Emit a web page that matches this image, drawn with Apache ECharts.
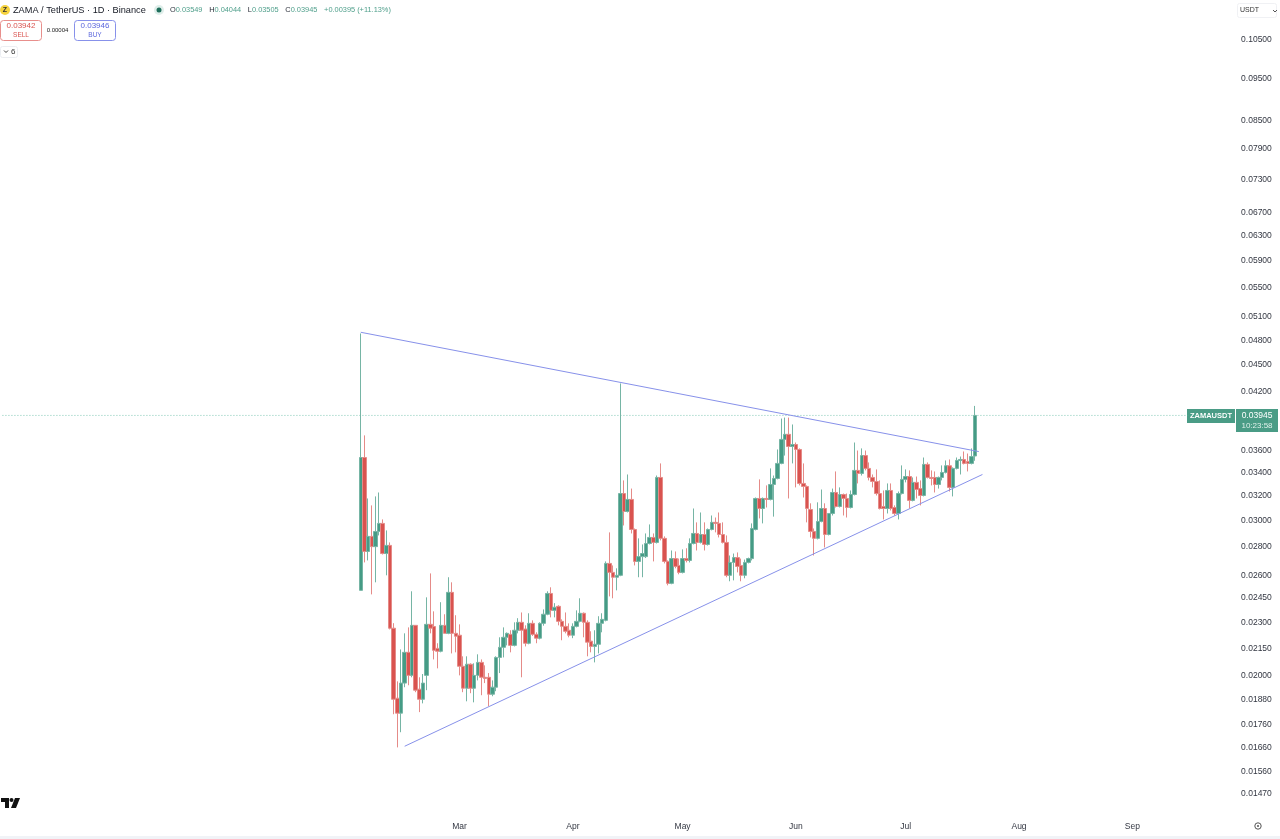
<!DOCTYPE html>
<html><head><meta charset="utf-8">
<style>html,body{margin:0;padding:0;background:#fff}#c{width:1280px;height:839px}</style>
<script src="https://cdn.jsdelivr.net/npm/echarts@6/dist/echarts.min.js"></script>
</head><body><div id="c"></div>
<script>
const firstDay = '2026-02-02';
const opens = [
.02500,.03535,.02767,.02878,.02802,.02915,.02977,.02752,.02811,.02265,
.01887,.01815,.01963,.02127,.02003,.02282,.01932,.01882,.02003,.02288,
.02275,.02149,.02133,.02282,.02235,.02487,.02235,.02224,.02051,.01937,
.02062,.01937,.02003,.02072,.01993,.01993,.01907,.01942,.02099,.02155,
.02212,.02229,.02166,.02253,.02300,.02260,.02178,.02294,.02229,.02207,
.02294,.02349,.02480,.02373,.02398,.02306,.02276,.02253,.02224,.02276,
.02306,.02355,.02300,.02190,.02160,.02172,.02294,.02312,.02682,.02620,
.02587,.02600,.03218,.03071,.03169,.02930,.02696,.02730,.02730,.02825,
.02870,.02833,.03356,.02863,.02696,.02546,.02716,.02668,.02620,.02716,
.02703,.02825,.02900,.02833,.02892,.02818,.02930,.02985,.02977,.02892,
.02833,.02600,.02689,.02723,.02668,.02600,.02689,.02716,.02930,.03177,
.03095,.03177,.03169,.03295,.03347,.03481,.03706,.03755,.03638,.03657,
.03610,.03304,.03278,.03087,.02915,.02863,.02992,.03095,.02892,.03055,
.03227,.03111,.03210,.03177,.03103,.03210,.03418,.03391,.03553,.03436,
.03356,.03321,.03218,.03111,.03095,.03244,.03103,.03055,.03218,.03339,
.03364,.03161,.03313,.03260,.03202,.03472,.03356,.03356,.03295,.03356,
.03400,.03460,.03270,.03436,.03508,.03517,.03499,.03481,.03549];
const closes = [
.03535,.02767,.02878,.02802,.02915,.02977,.02752,.02811,.02265,.01882,
.01815,.01963,.02127,.02003,.02282,.01927,.01882,.01963,.02288,.02265,
.02138,.02133,.02282,.02235,.02487,.02235,.02218,.02051,.01937,.02062,
.01937,.02003,.02072,.01993,.01987,.01907,.01942,.02099,.02155,.02212,
.02235,.02166,.02253,.02300,.02253,.02178,.02294,.02229,.02207,.02294,
.02349,.02480,.02373,.02392,.02306,.02276,.02247,.02224,.02276,.02306,
.02355,.02300,.02184,.02160,.02172,.02294,.02318,.02682,.02620,.02587,
.02600,.03218,.03071,.03169,.02930,.02696,.02730,.02752,.02825,.02870,
.02833,.03356,.02863,.02696,.02546,.02716,.02661,.02620,.02716,.02703,
.02825,.02900,.02833,.02892,.02818,.02930,.02985,.02977,.02892,.02833,
.02600,.02689,.02723,.02661,.02600,.02689,.02716,.02938,.03177,.03095,
.03177,.03169,.03295,.03347,.03481,.03706,.03755,.03638,.03657,.03610,
.03304,.03278,.03095,.02915,.02863,.02992,.03095,.02892,.03055,.03227,
.03111,.03210,.03177,.03103,.03210,.03418,.03391,.03553,.03436,.03356,
.03321,.03218,.03095,.03095,.03244,.03095,.03055,.03218,.03339,.03364,
.03161,.03313,.03252,.03202,.03472,.03356,.03347,.03295,.03356,.03400,
.03460,.03270,.03436,.03508,.03517,.03481,.03481,.03544,.03945];
const highs = [
.04885,.03745,.03177,.03120,.03194,.03227,.03008,.02923,.02833,.02295,
.01972,.02143,.02235,.02270,.02494,.02282,.01993,.02010,.02455,.02613,
.02367,.02178,.02424,.02349,.02587,.02553,.02343,.02288,.02105,.02105,
.02067,.02067,.02116,.02088,.02056,.02015,.01977,.02105,.02212,.02270,
.02240,.02253,.02300,.02325,.02360,.02282,.02355,.02312,.02241,.02300,
.02379,.02494,.02520,.02418,.02405,.02318,.02360,.02294,.02294,.02373,
.02449,.02360,.02312,.02247,.02253,.02337,.02355,.02696,.02908,.02668,
.02648,.04288,.03330,.03382,.03260,.02938,.02863,.02818,.02900,.02969,
.02900,.03373,.03481,.02878,.02703,.02774,.02767,.02716,.02782,.02790,
.02863,.03095,.02985,.03063,.02985,.02938,.03039,.03023,.03063,.02985,
.02885,.02738,.02752,.02760,.02716,.02709,.02723,.02977,.03185,.03339,
.03185,.03287,.03436,.03373,.03610,.03913,.03923,.03923,.03853,.03676,
.03620,.03481,.03287,.03137,.02938,.03145,.03252,.03137,.03055,.03260,
.03409,.03270,.03218,.03218,.03244,.03676,.03600,.03620,.03600,.03490,
.03382,.03427,.03330,.03244,.03304,.03304,.03120,.03235,.03463,.03427,
.03418,.03356,.03364,.03330,.03535,.03490,.03418,.03409,.03364,.03463,
.03508,.03517,.03445,.03535,.03544,.03591,.03572,.03620,.04044];
const lows = [
.02500,.02689,.02703,.02474,.02553,.02885,.02745,.02600,.02258,.01810,
.01660,.01727,.01942,.01952,.01993,.01917,.01820,.01862,.01927,.02235,
.02088,.02040,.02127,.02235,.02230,.02121,.02127,.02003,.01917,.01872,
.01912,.01867,.01977,.01902,.01963,.01848,.01897,.01922,.02015,.02099,
.02166,.02127,.02160,.02235,.01993,.02160,.02172,.02220,.02178,.02200,
.02280,.02343,.02330,.02330,.02282,.02195,.02235,.02212,.02207,.02270,
.02300,.02212,.02105,.02127,.02072,.02121,.02241,.02306,.02461,.02449,
.02500,.02594,.02961,.03063,.02900,.02668,.02587,.02587,.02720,.02818,
.02696,.02825,.02848,.02682,.02533,.02540,.02648,.02607,.02613,.02689,
.02689,.02818,.02774,.02825,.02774,.02810,.02923,.02908,.02870,.02825,
.02587,.02560,.02566,.02620,.02560,.02580,.02682,.02703,.02923,.03016,
.02977,.03103,.03161,.03030,.03339,.03473,.03553,.03177,.03481,.03270,
.03287,.03185,.02985,.02870,.02738,.02855,.02985,.02796,.02885,.03039,
.03103,.03103,.03039,.03023,.03095,.03202,.03304,.03373,.03418,.03330,
.03270,.03202,.03087,.03008,.03055,.03079,.03039,.03008,.03210,.03313,
.03095,.03153,.03177,.03120,.03194,.03347,.03287,.03227,.03260,.03330,
.03391,.03235,.03194,.03427,.03382,.03472,.03409,.03472,.03505];
const priceTicks = [0.105,0.095,0.085,0.079,0.073,0.067,0.063,0.059,0.055,0.051,0.048,0.045,0.042,0.036,0.034,0.032,0.03,0.028,0.026,0.0245,0.023,0.0215,0.02,0.0188,0.0176,0.0166,0.0156,0.0147];
const monthTicks = ['2026-03-01','2026-04-01','2026-05-01','2026-06-01','2026-07-01','2026-08-01','2026-09-01'];
const monthNames = ['Mar','Apr','May','Jun','Jul','Aug','Sep'];
const upperLine = [['2026-02-02',0.0490],['2026-07-21',0.0359]];
const lowerLine = [['2026-02-14',0.01665],['2026-07-22',0.03382]];
const lastPrice = 0.03945;

const DAY = 86400000, t0 = Date.parse(firstDay);
const DAYS_BEFORE = 98, DAYS_TOTAL = 338;
const GREEN = '#459b85', RED = '#d9534f', FONT = '"Liberation Sans", Arial, sans-serif';
const categories = [];
for (let k=0;k<DAYS_TOTAL;k++) categories.push(new Date(t0+(k-DAYS_BEFORE)*DAY).toISOString().slice(0,10));
const candles = categories.map((d,k)=>{const i=k-DAYS_BEFORE; return i>=0&&i<opens.length ? [opens[i],closes[i],lows[i],highs[i]] : '-';});
const priceLine = [[categories[0],lastPrice],[categories[DAYS_TOTAL-1],lastPrice]];
const labelOf = {}; monthTicks.forEach((d,i)=>labelOf[d] = monthNames[i]);
const txt = (x,y,text,fontSize,fill,extra) => ({type:'text',x,y,silent:true,style:Object.assign({text,fontSize,fill,fontFamily:FONT,verticalAlign:'middle'},extra||{})});
const box = (x,y,w,h,stroke,fill,r) => ({type:'rect',silent:true,shape:{x,y,width:w,height:h,r:r||0},style:{stroke:stroke,fill:fill,lineWidth:1}});

const chart = echarts.init(document.getElementById('c'),null,{renderer:'canvas'});
chart.setOption({
  animation:false, backgroundColor:'#fff',
  grid:{left:0.6,right:43.4,top:1,bottom:22,containLabel:false},
  xAxis:{type:'category',data:categories,boundaryGap:true,
    axisLine:{show:false},axisTick:{show:false},splitLine:{show:false},
    axisLabel:{interval:(i,v)=>labelOf[v]!==undefined,formatter:v=>labelOf[v]||'',color:'#333742',fontSize:8.5,fontFamily:FONT,margin:5,hideOverlap:false}},
  yAxis:{type:'log',position:'right',min:0.013845,max:0.11624,
    axisLine:{show:false},axisTick:{show:false},splitLine:{show:false},minorTick:{show:false},minorSplitLine:{show:false},
    axisLabel:{customValues:priceTicks,formatter:v=>(+v).toFixed(5),color:'#333742',fontSize:8.5,fontFamily:FONT,margin:4.5}},
  series:[
   {type:'line',name:'last',data:priceLine,showSymbol:false,symbol:'none',silent:true,lineStyle:{type:[1,2],color:'#4fb096',width:1,opacity:0.7},z:1},
   {type:'candlestick',name:'ZAMAUSDT',data:candles,barWidth:4,z:2,
    itemStyle:{color:GREEN,color0:RED,borderColor:'#76b5a5',borderColor0:'#e58b88',borderWidth:1}},
   {type:'line',name:'upper',data:upperLine,showSymbol:false,symbol:'none',silent:true,lineStyle:{color:'#8791ea',width:1},z:5},
   {type:'line',name:'lower',data:lowerLine,showSymbol:false,symbol:'none',silent:true,lineStyle:{color:'#8791ea',width:1},z:5}
  ],
  graphic:{elements:[
    {type:'circle',silent:true,shape:{cx:5,cy:10,r:5},style:{fill:'#f5d33f'}},
    txt(5,10,'Z',7,'#333',{align:'center',fontWeight:'bold'}),
    txt(13,10,'ZAMA / TetherUS · 1D · Binance',9.2,'#131722'),
    {type:'circle',silent:true,shape:{cx:159,cy:10,r:5},style:{fill:'#dfeeea'}},
    {type:'circle',silent:true,shape:{cx:159,cy:10,r:2.5},style:{fill:'#1f6f5c'}},
    {type:'text',x:170,y:10,silent:true,style:{
      text:'{k|O}{v|0.03549}  {k|H}{v|0.04044}  {k|L}{v|0.03505}  {k|C}{v|0.03945}  {v|+0.00395 (+11.13%)}',
      verticalAlign:'middle',rich:{k:{fill:'#2a2e39',fontSize:7.4,fontFamily:FONT},v:{fill:'#4f9f8b',fontSize:7.4,fontFamily:FONT}}}},
    box(0.5,20.5,41,20,'#e88f8c','#fff',3),
    txt(21,26,'0.03942',8,'#d9534f',{align:'center'}),
    txt(21,35,'SELL',6.5,'#d9534f',{align:'center'}),
    txt(57.5,30,'0.00004',6,'#222',{align:'center'}),
    box(74.5,20.5,41,20,'#8791ea','#fff',3),
    txt(95,26,'0.03946',8,'#5b67dd',{align:'center'}),
    txt(95,35,'BUY',6.5,'#5b67dd',{align:'center'}),
    box(0.5,46.5,17,11,'#eceef2','#fff',2),
    {type:'polyline',silent:true,shape:{points:[[4,50.5],[6,52.5],[8,50.5]]},style:{stroke:'#444',fill:null,lineWidth:1}},
    txt(11,52,'6',8,'#333'),
    box(1237.5,3.5,39,14,'#f0f1f4','#fff',2),
    txt(1240,10.5,'USDT',7,'#333'),
    {type:'polyline',silent:true,shape:{points:[[1273,10],[1275,12],[1277,10]]},style:{stroke:'#555',fill:null,lineWidth:1}},
    {type:'rect',silent:true,shape:{x:1187,y:409,width:48,height:14},style:{fill:'#4a9c86'}},
    txt(1211,416,'ZAMAUSDT',7.5,'#fff',{align:'center',fontWeight:'bold'}),
    {type:'rect',silent:true,shape:{x:1236,y:409,width:42,height:23},style:{fill:'#4a9c86'}},
    txt(1257,416,'0.03945',8.5,'#fff',{align:'center'}),
    txt(1257,426,'10:23:58',8,'#dff0ea',{align:'center'}),
    {type:'polygon',silent:true,shape:{points:[[1,798],[9,798],[9,808],[5,808],[5,802],[1,802]]},style:{fill:'#111'}},
    {type:'circle',silent:true,shape:{cx:11.5,cy:800,r:2},style:{fill:'#111'}},
    {type:'polygon',silent:true,shape:{points:[[15,798],[20,798],[16,808],[11,808]]},style:{fill:'#111'}},
    {type:'circle',silent:true,shape:{cx:1258,cy:826,r:3.2},style:{stroke:'#555',fill:'#fff',lineWidth:1}},
    {type:'circle',silent:true,shape:{cx:1258,cy:826,r:1},style:{fill:'#555'}},
    {type:'rect',silent:true,shape:{x:0,y:836,width:1280,height:3},style:{fill:'#f1f3f7'}}
  ]}
});
</script></body></html>
